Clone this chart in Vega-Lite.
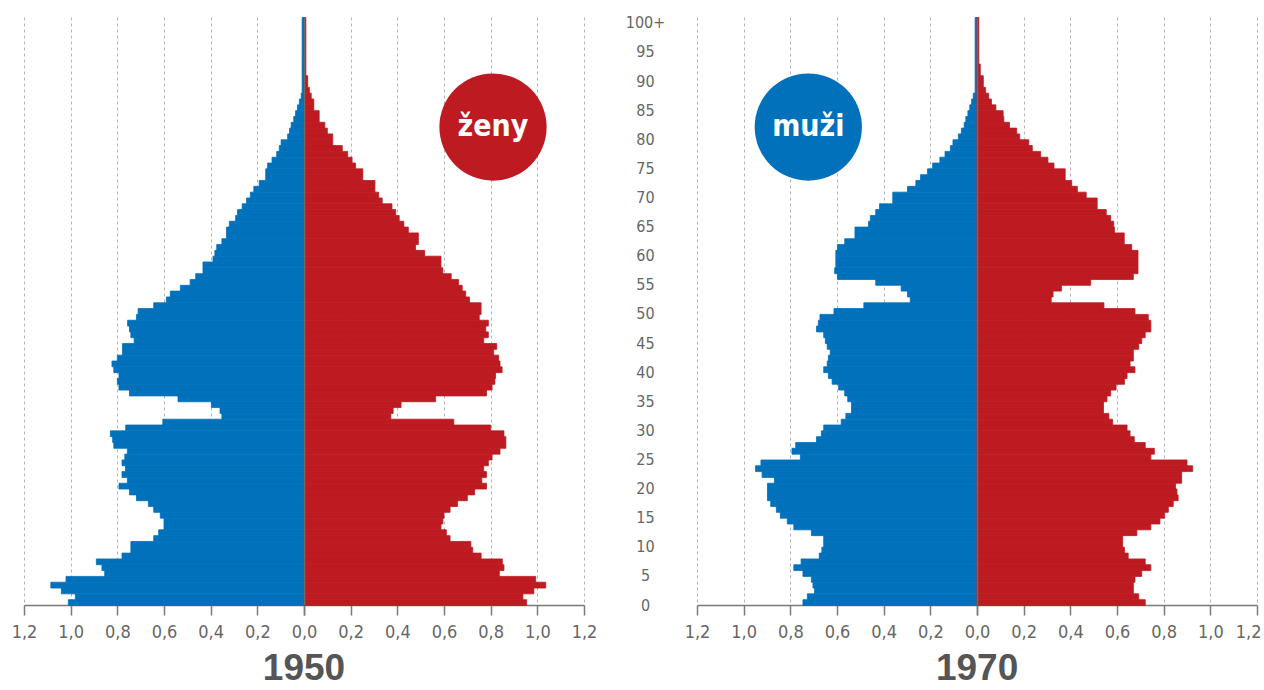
{
  "$schema": "https://vega.github.io/schema/vega-lite/v6.json",
  "padding": {"left": 11, "top": 14, "right": 0, "bottom": 0},
  "background": "white",
  "config": {
    "view": {"stroke": null},
    "font": "DejaVu Sans Condensed, Liberation Sans, sans-serif",
    "axis": {"title": null, "labelFont": "DejaVu Sans Condensed, Liberation Sans, sans-serif", "labelColor": "#666666"},
    "axisX": {"grid": true, "gridColor": "#b3b3b3", "gridDash": [3, 3], "gridWidth": 1, "domainColor": "#7a7a7a", "domainWidth": 1.5, "tickColor": "#7a7a7a", "tickSize": 10, "tickWidth": 1.5, "labelFontSize": 18, "labelPadding": 8, "labelFlush": false, "labelOverlap": false, "labelBound": false}
  },
  "data": {"values": [
    {"year":1950,"sex":"muži","age":0,"share":1.01},{"year":1950,"sex":"muži","age":1,"share":0.98},{"year":1950,"sex":"muži","age":2,"share":1.04},{"year":1950,"sex":"muži","age":3,"share":1.085},{"year":1950,"sex":"muži","age":4,"share":1.02},
    {"year":1950,"sex":"muži","age":5,"share":0.854},{"year":1950,"sex":"muži","age":6,"share":0.866},{"year":1950,"sex":"muži","age":7,"share":0.89},{"year":1950,"sex":"muži","age":8,"share":0.78},{"year":1950,"sex":"muži","age":9,"share":0.742},
    {"year":1950,"sex":"muži","age":10,"share":0.742},{"year":1950,"sex":"muži","age":11,"share":0.644},{"year":1950,"sex":"muži","age":12,"share":0.623},{"year":1950,"sex":"muži","age":13,"share":0.6},{"year":1950,"sex":"muži","age":14,"share":0.6},
    {"year":1950,"sex":"muži","age":15,"share":0.616},{"year":1950,"sex":"muži","age":16,"share":0.644},{"year":1950,"sex":"muži","age":17,"share":0.667},{"year":1950,"sex":"muži","age":18,"share":0.718},{"year":1950,"sex":"muži","age":19,"share":0.748},
    {"year":1950,"sex":"muži","age":20,"share":0.793},{"year":1950,"sex":"muži","age":21,"share":0.757},{"year":1950,"sex":"muži","age":22,"share":0.78},{"year":1950,"sex":"muži","age":23,"share":0.765},{"year":1950,"sex":"muži","age":24,"share":0.78},
    {"year":1950,"sex":"muži","age":25,"share":0.768},{"year":1950,"sex":"muži","age":26,"share":0.757},{"year":1950,"sex":"muži","age":27,"share":0.815},{"year":1950,"sex":"muži","age":28,"share":0.82},{"year":1950,"sex":"muži","age":29,"share":0.83},
    {"year":1950,"sex":"muži","age":30,"share":0.764},{"year":1950,"sex":"muži","age":31,"share":0.605},{"year":1950,"sex":"muži","age":32,"share":0.352},{"year":1950,"sex":"muži","age":33,"share":0.36},{"year":1950,"sex":"muži","age":34,"share":0.397},
    {"year":1950,"sex":"muži","age":35,"share":0.54},{"year":1950,"sex":"muži","age":36,"share":0.748},{"year":1950,"sex":"muži","age":37,"share":0.793},{"year":1950,"sex":"muži","age":38,"share":0.8},{"year":1950,"sex":"muži","age":39,"share":0.793},
    {"year":1950,"sex":"muži","age":40,"share":0.815},{"year":1950,"sex":"muži","age":41,"share":0.823},{"year":1950,"sex":"muži","age":42,"share":0.8},{"year":1950,"sex":"muži","age":43,"share":0.778},{"year":1950,"sex":"muži","age":44,"share":0.778},
    {"year":1950,"sex":"muži","age":45,"share":0.728},{"year":1950,"sex":"muži","age":46,"share":0.742},{"year":1950,"sex":"muži","age":47,"share":0.748},{"year":1950,"sex":"muži","age":48,"share":0.756},{"year":1950,"sex":"muži","age":49,"share":0.718},
    {"year":1950,"sex":"muži","age":50,"share":0.711},{"year":1950,"sex":"muži","age":51,"share":0.644},{"year":1950,"sex":"muži","age":52,"share":0.59},{"year":1950,"sex":"muži","age":53,"share":0.573},{"year":1950,"sex":"muži","age":54,"share":0.53},
    {"year":1950,"sex":"muži","age":55,"share":0.488},{"year":1950,"sex":"muži","age":56,"share":0.464},{"year":1950,"sex":"muži","age":57,"share":0.433},{"year":1950,"sex":"muži","age":58,"share":0.433},{"year":1950,"sex":"muži","age":59,"share":0.39},
    {"year":1950,"sex":"muži","age":60,"share":0.382},{"year":1950,"sex":"muži","age":61,"share":0.374},{"year":1950,"sex":"muži","age":62,"share":0.352},{"year":1950,"sex":"muži","age":63,"share":0.332},{"year":1950,"sex":"muži","age":64,"share":0.332},
    {"year":1950,"sex":"muži","age":65,"share":0.32},{"year":1950,"sex":"muži","age":66,"share":0.293},{"year":1950,"sex":"muži","age":67,"share":0.285},{"year":1950,"sex":"muži","age":68,"share":0.265},{"year":1950,"sex":"muži","age":69,"share":0.246},
    {"year":1950,"sex":"muži","age":70,"share":0.23},{"year":1950,"sex":"muži","age":71,"share":0.215},{"year":1950,"sex":"muži","age":72,"share":0.192},{"year":1950,"sex":"muži","age":73,"share":0.164},{"year":1950,"sex":"muži","age":74,"share":0.164},
    {"year":1950,"sex":"muži","age":75,"share":0.156},{"year":1950,"sex":"muži","age":76,"share":0.137},{"year":1950,"sex":"muži","age":77,"share":0.117},{"year":1950,"sex":"muži","age":78,"share":0.106},{"year":1950,"sex":"muži","age":79,"share":0.098},
    {"year":1950,"sex":"muži","age":80,"share":0.07},{"year":1950,"sex":"muži","age":81,"share":0.062},{"year":1950,"sex":"muži","age":82,"share":0.055},{"year":1950,"sex":"muži","age":83,"share":0.044},{"year":1950,"sex":"muži","age":84,"share":0.036},
    {"year":1950,"sex":"muži","age":85,"share":0.028},{"year":1950,"sex":"muži","age":86,"share":0.02},{"year":1950,"sex":"muži","age":87,"share":0.012},{"year":1950,"sex":"muži","age":88,"share":0.008},{"year":1950,"sex":"muži","age":89,"share":0.008},
    {"year":1950,"sex":"muži","age":90,"share":0.008},{"year":1950,"sex":"muži","age":91,"share":0.008},{"year":1950,"sex":"muži","age":92,"share":0.008},{"year":1950,"sex":"muži","age":93,"share":0.008},{"year":1950,"sex":"muži","age":94,"share":0.008},
    {"year":1950,"sex":"muži","age":95,"share":0.008},{"year":1950,"sex":"muži","age":96,"share":0.008},{"year":1950,"sex":"muži","age":97,"share":0.008},{"year":1950,"sex":"muži","age":98,"share":0.008},{"year":1950,"sex":"muži","age":99,"share":0.008},
    {"year":1950,"sex":"muži","age":100,"share":0.008},

    {"year":1950,"sex":"ženy","age":0,"share":0.954},{"year":1950,"sex":"ženy","age":1,"share":0.938},{"year":1950,"sex":"ženy","age":2,"share":0.985},{"year":1950,"sex":"ženy","age":3,"share":1.036},{"year":1950,"sex":"ženy","age":4,"share":0.993},
    {"year":1950,"sex":"ženy","age":5,"share":0.837},{"year":1950,"sex":"ženy","age":6,"share":0.857},{"year":1950,"sex":"ženy","age":7,"share":0.85},{"year":1950,"sex":"ženy","age":8,"share":0.759},{"year":1950,"sex":"ženy","age":9,"share":0.723},
    {"year":1950,"sex":"ženy","age":10,"share":0.715},{"year":1950,"sex":"ženy","age":11,"share":0.626},{"year":1950,"sex":"ženy","age":12,"share":0.61},{"year":1950,"sex":"ženy","age":13,"share":0.587},{"year":1950,"sex":"ženy","age":14,"share":0.595},
    {"year":1950,"sex":"ženy","age":15,"share":0.6},{"year":1950,"sex":"ženy","age":16,"share":0.626},{"year":1950,"sex":"ženy","age":17,"share":0.658},{"year":1950,"sex":"ženy","age":18,"share":0.7},{"year":1950,"sex":"ženy","age":19,"share":0.731},
    {"year":1950,"sex":"ženy","age":20,"share":0.782},{"year":1950,"sex":"ženy","age":21,"share":0.762},{"year":1950,"sex":"ženy","age":22,"share":0.782},{"year":1950,"sex":"ženy","age":23,"share":0.77},{"year":1950,"sex":"ženy","age":24,"share":0.79},
    {"year":1950,"sex":"ženy","age":25,"share":0.806},{"year":1950,"sex":"ženy","age":26,"share":0.84},{"year":1950,"sex":"ženy","age":27,"share":0.865},{"year":1950,"sex":"ženy","age":28,"share":0.865},{"year":1950,"sex":"ženy","age":29,"share":0.857},
    {"year":1950,"sex":"ženy","age":30,"share":0.8},{"year":1950,"sex":"ženy","age":31,"share":0.642},{"year":1950,"sex":"ženy","age":32,"share":0.372},{"year":1950,"sex":"ženy","age":33,"share":0.382},{"year":1950,"sex":"ženy","age":34,"share":0.416},
    {"year":1950,"sex":"ženy","age":35,"share":0.564},{"year":1950,"sex":"ženy","age":36,"share":0.782},{"year":1950,"sex":"ženy","age":37,"share":0.806},{"year":1950,"sex":"ženy","age":38,"share":0.818},{"year":1950,"sex":"ženy","age":39,"share":0.821},
    {"year":1950,"sex":"ženy","age":40,"share":0.849},{"year":1950,"sex":"ženy","age":41,"share":0.84},{"year":1950,"sex":"ženy","age":42,"share":0.834},{"year":1950,"sex":"ženy","age":43,"share":0.813},{"year":1950,"sex":"ženy","age":44,"share":0.826},
    {"year":1950,"sex":"ženy","age":45,"share":0.77},{"year":1950,"sex":"ženy","age":46,"share":0.79},{"year":1950,"sex":"ženy","age":47,"share":0.779},{"year":1950,"sex":"ženy","age":48,"share":0.79},{"year":1950,"sex":"ženy","age":49,"share":0.751},
    {"year":1950,"sex":"ženy","age":50,"share":0.759},{"year":1950,"sex":"ženy","age":51,"share":0.759},{"year":1950,"sex":"ženy","age":52,"share":0.709},{"year":1950,"sex":"ženy","age":53,"share":0.693},{"year":1950,"sex":"ženy","age":54,"share":0.678},
    {"year":1950,"sex":"ženy","age":55,"share":0.662},{"year":1950,"sex":"ženy","age":56,"share":0.631},{"year":1950,"sex":"ženy","age":57,"share":0.595},{"year":1950,"sex":"ženy","age":58,"share":0.587},{"year":1950,"sex":"ženy","age":59,"share":0.587},
    {"year":1950,"sex":"ženy","age":60,"share":0.517},{"year":1950,"sex":"ženy","age":61,"share":0.478},{"year":1950,"sex":"ženy","age":62,"share":0.49},{"year":1950,"sex":"ženy","age":63,"share":0.49},{"year":1950,"sex":"ženy","age":64,"share":0.447},
    {"year":1950,"sex":"ženy","age":65,"share":0.428},{"year":1950,"sex":"ženy","age":66,"share":0.408},{"year":1950,"sex":"ženy","age":67,"share":0.393},{"year":1950,"sex":"ženy","age":68,"share":0.377},{"year":1950,"sex":"ženy","age":69,"share":0.335},
    {"year":1950,"sex":"ženy","age":70,"share":0.32},{"year":1950,"sex":"ženy","age":71,"share":0.304},{"year":1950,"sex":"ženy","age":72,"share":0.304},{"year":1950,"sex":"ženy","age":73,"share":0.252},{"year":1950,"sex":"ženy","age":74,"share":0.252},
    {"year":1950,"sex":"ženy","age":75,"share":0.221},{"year":1950,"sex":"ženy","age":76,"share":0.206},{"year":1950,"sex":"ženy","age":77,"share":0.187},{"year":1950,"sex":"ženy","age":78,"share":0.164},{"year":1950,"sex":"ženy","age":79,"share":0.123},
    {"year":1950,"sex":"ženy","age":80,"share":0.123},{"year":1950,"sex":"ženy","age":81,"share":0.1},{"year":1950,"sex":"ženy","age":82,"share":0.089},{"year":1950,"sex":"ženy","age":83,"share":0.065},{"year":1950,"sex":"ženy","age":84,"share":0.065},
    {"year":1950,"sex":"ženy","age":85,"share":0.042},{"year":1950,"sex":"ženy","age":86,"share":0.042},{"year":1950,"sex":"ženy","age":87,"share":0.031},{"year":1950,"sex":"ženy","age":88,"share":0.023},{"year":1950,"sex":"ženy","age":89,"share":0.016},
    {"year":1950,"sex":"ženy","age":90,"share":0.016},{"year":1950,"sex":"ženy","age":91,"share":0.008},{"year":1950,"sex":"ženy","age":92,"share":0.008},{"year":1950,"sex":"ženy","age":93,"share":0.008},{"year":1950,"sex":"ženy","age":94,"share":0.008},
    {"year":1950,"sex":"ženy","age":95,"share":0.008},{"year":1950,"sex":"ženy","age":96,"share":0.008},{"year":1950,"sex":"ženy","age":97,"share":0.008},{"year":1950,"sex":"ženy","age":98,"share":0.008},{"year":1950,"sex":"ženy","age":99,"share":0.008},
    {"year":1950,"sex":"ženy","age":100,"share":0.008},

    {"year":1970,"sex":"muži","age":0,"share":0.746},{"year":1970,"sex":"muži","age":1,"share":0.727},{"year":1970,"sex":"muži","age":2,"share":0.696},{"year":1970,"sex":"muži","age":3,"share":0.703},{"year":1970,"sex":"muži","age":4,"share":0.71},
    {"year":1970,"sex":"muži","age":5,"share":0.746},{"year":1970,"sex":"muži","age":6,"share":0.785},{"year":1970,"sex":"muži","age":7,"share":0.754},{"year":1970,"sex":"muži","age":8,"share":0.676},{"year":1970,"sex":"muži","age":9,"share":0.665},
    {"year":1970,"sex":"muži","age":10,"share":0.657},{"year":1970,"sex":"muži","age":11,"share":0.657},{"year":1970,"sex":"muži","age":12,"share":0.71},{"year":1970,"sex":"muži","age":13,"share":0.785},{"year":1970,"sex":"muži","age":14,"share":0.813},
    {"year":1970,"sex":"muži","age":15,"share":0.843},{"year":1970,"sex":"muži","age":16,"share":0.86},{"year":1970,"sex":"muži","age":17,"share":0.884},{"year":1970,"sex":"muži","age":18,"share":0.898},{"year":1970,"sex":"muži","age":19,"share":0.898},
    {"year":1970,"sex":"muži","age":20,"share":0.898},{"year":1970,"sex":"muži","age":21,"share":0.868},{"year":1970,"sex":"muži","age":22,"share":0.921},{"year":1970,"sex":"muži","age":23,"share":0.949},{"year":1970,"sex":"muži","age":24,"share":0.926},
    {"year":1970,"sex":"muži","age":25,"share":0.757},{"year":1970,"sex":"muži","age":26,"share":0.793},{"year":1970,"sex":"muži","age":27,"share":0.777},{"year":1970,"sex":"muži","age":28,"share":0.688},{"year":1970,"sex":"muži","age":29,"share":0.667},
    {"year":1970,"sex":"muži","age":30,"share":0.657},{"year":1970,"sex":"muži","age":31,"share":0.582},{"year":1970,"sex":"muži","age":32,"share":0.562},{"year":1970,"sex":"muži","age":33,"share":0.538},{"year":1970,"sex":"muži","age":34,"share":0.538},
    {"year":1970,"sex":"muži","age":35,"share":0.554},{"year":1970,"sex":"muži","age":36,"share":0.567},{"year":1970,"sex":"muži","age":37,"share":0.593},{"year":1970,"sex":"muži","age":38,"share":0.621},{"year":1970,"sex":"muži","age":39,"share":0.637},
    {"year":1970,"sex":"muži","age":40,"share":0.657},{"year":1970,"sex":"muži","age":41,"share":0.642},{"year":1970,"sex":"muži","age":42,"share":0.637},{"year":1970,"sex":"muži","age":43,"share":0.629},{"year":1970,"sex":"muži","age":44,"share":0.642},
    {"year":1970,"sex":"muži","age":45,"share":0.65},{"year":1970,"sex":"muži","age":46,"share":0.657},{"year":1970,"sex":"muži","age":47,"share":0.688},{"year":1970,"sex":"muži","age":48,"share":0.68},{"year":1970,"sex":"muži","age":49,"share":0.673},
    {"year":1970,"sex":"muži","age":50,"share":0.613},{"year":1970,"sex":"muži","age":51,"share":0.485},{"year":1970,"sex":"muži","age":52,"share":0.286},{"year":1970,"sex":"muži","age":53,"share":0.298},{"year":1970,"sex":"muži","age":54,"share":0.325},
    {"year":1970,"sex":"muži","age":55,"share":0.434},{"year":1970,"sex":"muži","age":56,"share":0.598},{"year":1970,"sex":"muži","age":57,"share":0.61},{"year":1970,"sex":"muži","age":58,"share":0.605},{"year":1970,"sex":"muži","age":59,"share":0.605},
    {"year":1970,"sex":"muži","age":60,"share":0.605},{"year":1970,"sex":"muži","age":61,"share":0.598},{"year":1970,"sex":"muži","age":62,"share":0.567},{"year":1970,"sex":"muži","age":63,"share":0.523},{"year":1970,"sex":"muži","age":64,"share":0.523},
    {"year":1970,"sex":"muži","age":65,"share":0.465},{"year":1970,"sex":"muži","age":66,"share":0.457},{"year":1970,"sex":"muži","age":67,"share":0.434},{"year":1970,"sex":"muži","age":68,"share":0.418},{"year":1970,"sex":"muži","age":69,"share":0.361},
    {"year":1970,"sex":"muži","age":70,"share":0.361},{"year":1970,"sex":"muži","age":71,"share":0.298},{"year":1970,"sex":"muži","age":72,"share":0.262},{"year":1970,"sex":"muži","age":73,"share":0.242},{"year":1970,"sex":"muži","age":74,"share":0.212},
    {"year":1970,"sex":"muži","age":75,"share":0.19},{"year":1970,"sex":"muži","age":76,"share":0.159},{"year":1970,"sex":"muži","age":77,"share":0.137},{"year":1970,"sex":"muži","age":78,"share":0.114},{"year":1970,"sex":"muži","age":79,"share":0.103},
    {"year":1970,"sex":"muži","age":80,"share":0.08},{"year":1970,"sex":"muži","age":81,"share":0.067},{"year":1970,"sex":"muži","age":82,"share":0.055},{"year":1970,"sex":"muži","age":83,"share":0.048},{"year":1970,"sex":"muži","age":84,"share":0.039},
    {"year":1970,"sex":"muži","age":85,"share":0.031},{"year":1970,"sex":"muži","age":86,"share":0.023},{"year":1970,"sex":"muži","age":87,"share":0.016},{"year":1970,"sex":"muži","age":88,"share":0.008},{"year":1970,"sex":"muži","age":89,"share":0.008},
    {"year":1970,"sex":"muži","age":90,"share":0.008},{"year":1970,"sex":"muži","age":91,"share":0.008},{"year":1970,"sex":"muži","age":92,"share":0.008},{"year":1970,"sex":"muži","age":93,"share":0.008},{"year":1970,"sex":"muži","age":94,"share":0.008},
    {"year":1970,"sex":"muži","age":95,"share":0.008},{"year":1970,"sex":"muži","age":96,"share":0.008},{"year":1970,"sex":"muži","age":97,"share":0.008},{"year":1970,"sex":"muži","age":98,"share":0.008},{"year":1970,"sex":"muži","age":99,"share":0.008},
    {"year":1970,"sex":"muži","age":100,"share":0.008},

    {"year":1970,"sex":"ženy","age":0,"share":0.721},{"year":1970,"sex":"ženy","age":1,"share":0.693},{"year":1970,"sex":"ženy","age":2,"share":0.67},{"year":1970,"sex":"ženy","age":3,"share":0.67},{"year":1970,"sex":"ženy","age":4,"share":0.677},
    {"year":1970,"sex":"ženy","age":5,"share":0.706},{"year":1970,"sex":"ženy","age":6,"share":0.745},{"year":1970,"sex":"ženy","age":7,"share":0.721},{"year":1970,"sex":"ženy","age":8,"share":0.648},{"year":1970,"sex":"ženy","age":9,"share":0.632},
    {"year":1970,"sex":"ženy","age":10,"share":0.624},{"year":1970,"sex":"ženy","age":11,"share":0.624},{"year":1970,"sex":"ženy","age":12,"share":0.685},{"year":1970,"sex":"ženy","age":13,"share":0.745},{"year":1970,"sex":"ženy","age":14,"share":0.784},
    {"year":1970,"sex":"ženy","age":15,"share":0.804},{"year":1970,"sex":"ženy","age":16,"share":0.82},{"year":1970,"sex":"ženy","age":17,"share":0.841},{"year":1970,"sex":"ženy","age":18,"share":0.862},{"year":1970,"sex":"ženy","age":19,"share":0.857},
    {"year":1970,"sex":"ženy","age":20,"share":0.851},{"year":1970,"sex":"ženy","age":21,"share":0.877},{"year":1970,"sex":"ženy","age":22,"share":0.877},{"year":1970,"sex":"ženy","age":23,"share":0.924},{"year":1970,"sex":"ženy","age":24,"share":0.9},
    {"year":1970,"sex":"ženy","age":25,"share":0.745},{"year":1970,"sex":"ženy","age":26,"share":0.76},{"year":1970,"sex":"ženy","age":27,"share":0.721},{"year":1970,"sex":"ženy","age":28,"share":0.674},{"year":1970,"sex":"ženy","age":29,"share":0.656},
    {"year":1970,"sex":"ženy","age":30,"share":0.643},{"year":1970,"sex":"ženy","age":31,"share":0.581},{"year":1970,"sex":"ženy","age":32,"share":0.565},{"year":1970,"sex":"ženy","age":33,"share":0.542},{"year":1970,"sex":"ženy","age":34,"share":0.542},
    {"year":1970,"sex":"ženy","age":35,"share":0.557},{"year":1970,"sex":"ženy","age":36,"share":0.573},{"year":1970,"sex":"ženy","age":37,"share":0.596},{"year":1970,"sex":"ženy","age":38,"share":0.632},{"year":1970,"sex":"ženy","age":39,"share":0.643},
    {"year":1970,"sex":"ženy","age":40,"share":0.677},{"year":1970,"sex":"ženy","age":41,"share":0.656},{"year":1970,"sex":"ženy","age":42,"share":0.67},{"year":1970,"sex":"ženy","age":43,"share":0.67},{"year":1970,"sex":"ženy","age":44,"share":0.693},
    {"year":1970,"sex":"ženy","age":45,"share":0.706},{"year":1970,"sex":"ženy","age":46,"share":0.721},{"year":1970,"sex":"ženy","age":47,"share":0.745},{"year":1970,"sex":"ženy","age":48,"share":0.745},{"year":1970,"sex":"ženy","age":49,"share":0.734},
    {"year":1970,"sex":"ženy","age":50,"share":0.677},{"year":1970,"sex":"ženy","age":51,"share":0.544},{"year":1970,"sex":"ženy","age":52,"share":0.318},{"year":1970,"sex":"ženy","age":53,"share":0.326},{"year":1970,"sex":"ženy","age":54,"share":0.362},
    {"year":1970,"sex":"ženy","age":55,"share":0.487},{"year":1970,"sex":"ženy","age":56,"share":0.67},{"year":1970,"sex":"ženy","age":57,"share":0.69},{"year":1970,"sex":"ženy","age":58,"share":0.69},{"year":1970,"sex":"ženy","age":59,"share":0.69},
    {"year":1970,"sex":"ženy","age":60,"share":0.69},{"year":1970,"sex":"ženy","age":61,"share":0.663},{"year":1970,"sex":"ženy","age":62,"share":0.631},{"year":1970,"sex":"ženy","age":63,"share":0.631},{"year":1970,"sex":"ženy","age":64,"share":0.589},
    {"year":1970,"sex":"ženy","age":65,"share":0.586},{"year":1970,"sex":"ženy","age":66,"share":0.573},{"year":1970,"sex":"ženy","age":67,"share":0.554},{"year":1970,"sex":"ženy","age":68,"share":0.515},{"year":1970,"sex":"ženy","age":69,"share":0.515},
    {"year":1970,"sex":"ženy","age":70,"share":0.468},{"year":1970,"sex":"ženy","age":71,"share":0.43},{"year":1970,"sex":"ženy","age":72,"share":0.406},{"year":1970,"sex":"ženy","age":73,"share":0.378},{"year":1970,"sex":"ženy","age":74,"share":0.378},
    {"year":1970,"sex":"ženy","age":75,"share":0.33},{"year":1970,"sex":"ženy","age":76,"share":0.304},{"year":1970,"sex":"ženy","age":77,"share":0.273},{"year":1970,"sex":"ženy","age":78,"share":0.237},{"year":1970,"sex":"ženy","age":79,"share":0.222},
    {"year":1970,"sex":"ženy","age":80,"share":0.183},{"year":1970,"sex":"ženy","age":81,"share":0.17},{"year":1970,"sex":"ženy","age":82,"share":0.139},{"year":1970,"sex":"ženy","age":83,"share":0.115},{"year":1970,"sex":"ženy","age":84,"share":0.112},
    {"year":1970,"sex":"ženy","age":85,"share":0.081},{"year":1970,"sex":"ženy","age":86,"share":0.062},{"year":1970,"sex":"ženy","age":87,"share":0.05},{"year":1970,"sex":"ženy","age":88,"share":0.037},{"year":1970,"sex":"ženy","age":89,"share":0.027},
    {"year":1970,"sex":"ženy","age":90,"share":0.027},{"year":1970,"sex":"ženy","age":91,"share":0.014},{"year":1970,"sex":"ženy","age":92,"share":0.014},{"year":1970,"sex":"ženy","age":93,"share":0.008},{"year":1970,"sex":"ženy","age":94,"share":0.008},
    {"year":1970,"sex":"ženy","age":95,"share":0.008},{"year":1970,"sex":"ženy","age":96,"share":0.008},{"year":1970,"sex":"ženy","age":97,"share":0.008},{"year":1970,"sex":"ženy","age":98,"share":0.008},{"year":1970,"sex":"ženy","age":99,"share":0.008},
    {"year":1970,"sex":"ženy","age":100,"share":0.008}
  ]},
  "spacing": 28,
  "hconcat": [
    {
      "title": {"text": "1950", "orient": "bottom", "anchor": "middle", "font": "Liberation Sans", "fontSize": 37, "fontWeight": "bold", "color": "#555555", "offset": 10},
      "spacing": 0,
      "bounds": "flush",
      "hconcat": [
        {
          "width": 280, "height": 588,
          "transform": [{"filter": "datum.year == 1950 && datum.sex == 'muži'"}],
          "mark": {"type": "bar", "color": "#0071BA", "stroke": "#0071BA", "strokeWidth": 0.8, "binSpacing": 0},
          "encoding": {
            "y": {"field": "age", "type": "quantitative", "bin": {"step": 1, "extent": [0, 101]}, "scale": {"domain": [0, 101], "nice": false, "zero": false}, "axis": null},
            "x": {"field": "share", "type": "quantitative", "scale": {"domain": [0, 1.2], "reverse": true, "nice": false}, "axis": {"values": [0, 0.2, 0.4, 0.6, 0.8, 1, 1.2], "labelExpr": "replace(format(datum.value, '.1f'), '.', ',')"}}
          }
        },
        {
          "width": 280, "height": 588,
          "layer": [
            {
              "transform": [{"filter": "datum.year == 1950 && datum.sex == 'ženy'"}],
              "mark": {"type": "bar", "color": "#BD1A21", "stroke": "#BD1A21", "strokeWidth": 0.8, "binSpacing": 0},
              "encoding": {
                "y": {"field": "age", "type": "quantitative", "bin": {"step": 1, "extent": [0, 101]}, "scale": {"domain": [0, 101], "nice": false, "zero": false}, "axis": {"orient": "left", "labels": false, "ticks": false, "grid": false, "domain": true, "domainColor": "#6b6b6b", "domainWidth": 1.5, "zindex": 1}},
                "x": {"field": "share", "type": "quantitative", "scale": {"domain": [0, 1.2], "nice": false}, "axis": {"values": [0, 0.2, 0.4, 0.6, 0.8, 1, 1.2], "labelExpr": "datum.value == 0 ? '' : replace(format(datum.value, '.1f'), '.', ',')"}}
              }
            },
            {
              "data": {"values": [{"label": "ženy"}]},
              "mark": {"type": "point", "filled": true, "size": 11500, "color": "#BD1A21", "opacity": 1, "strokeWidth": 0},
              "encoding": {"x": {"datum": 0.81}, "y": {"datum": 82.1}}
            },
            {
              "data": {"values": [{"label": "ženy"}]},
              "mark": {"type": "text", "color": "white", "font": "DejaVu Sans Condensed, Liberation Sans, sans-serif", "fontSize": 30, "fontWeight": "bold", "baseline": "middle", "align": "center"},
              "encoding": {"x": {"datum": 0.81}, "y": {"datum": 82.1}, "text": {"field": "label"}}
            }
          ]
        }
      ]
    },
    {
      "title": {"text": "1970", "orient": "bottom", "anchor": "middle", "font": "Liberation Sans", "fontSize": 37, "fontWeight": "bold", "color": "#555555", "offset": 10, "dx": 34},
      "spacing": 0,
      "bounds": "flush",
      "hconcat": [
        {
          "width": 280, "height": 588,
          "layer": [
            {
              "transform": [{"filter": "datum.year == 1970 && datum.sex == 'muži'"}],
              "mark": {"type": "bar", "color": "#0071BA", "stroke": "#0071BA", "strokeWidth": 0.8, "binSpacing": 0},
              "encoding": {
                "y": {"field": "age", "type": "quantitative", "bin": {"step": 1, "extent": [0, 101]}, "scale": {"domain": [0, 101], "nice": false, "zero": false}, "axis": {"orient": "left", "values": [0, 5, 10, 15, 20, 25, 30, 35, 40, 45, 50, 55, 60, 65, 70, 75, 80, 85, 90, 95, 100], "labelExpr": "datum.value == 100 ? '100+' : datum.label", "labelAlign": "center", "labelBaseline": "middle", "labelPadding": 52, "ticks": false, "tickSize": 0, "domain": false, "grid": false, "labelFontSize": 16, "labelOverlap": false, "labelFlush": false, "labelBound": false}},
                "x": {"field": "share", "type": "quantitative", "scale": {"domain": [0, 1.2], "reverse": true, "nice": false}, "axis": {"values": [0, 0.2, 0.4, 0.6, 0.8, 1, 1.2], "labelExpr": "replace(format(datum.value, '.1f'), '.', ',')"}}
              }
            },
            {
              "data": {"values": [{"label": "muži"}]},
              "mark": {"type": "point", "filled": true, "size": 11500, "color": "#0071BA", "opacity": 1, "strokeWidth": 0},
              "encoding": {"x": {"datum": 0.723}, "y": {"datum": 82.1}}
            },
            {
              "data": {"values": [{"label": "muži"}]},
              "mark": {"type": "text", "color": "white", "font": "DejaVu Sans Condensed, Liberation Sans, sans-serif", "fontSize": 30, "fontWeight": "bold", "baseline": "middle", "align": "center"},
              "encoding": {"x": {"datum": 0.723}, "y": {"datum": 82.1}, "text": {"field": "label"}}
            }
          ]
        },
        {
          "width": 280, "height": 588,
          "transform": [{"filter": "datum.year == 1970 && datum.sex == 'ženy'"}],
          "mark": {"type": "bar", "color": "#BD1A21", "stroke": "#BD1A21", "strokeWidth": 0.8, "binSpacing": 0},
          "encoding": {
            "y": {"field": "age", "type": "quantitative", "bin": {"step": 1, "extent": [0, 101]}, "scale": {"domain": [0, 101], "nice": false, "zero": false}, "axis": {"orient": "left", "labels": false, "ticks": false, "grid": false, "domain": true, "domainColor": "#6b6b6b", "domainWidth": 1.5, "zindex": 1}},
            "x": {"field": "share", "type": "quantitative", "scale": {"domain": [0, 1.2], "nice": false}, "axis": {"values": [0, 0.2, 0.4, 0.6, 0.8, 1, 1.2], "labelFlush": true, "labelFlushOffset": 4, "labelExpr": "datum.value == 0 ? '' : replace(format(datum.value, '.1f'), '.', ',')"}}
          }
        }
      ]
    }
  ]
}
